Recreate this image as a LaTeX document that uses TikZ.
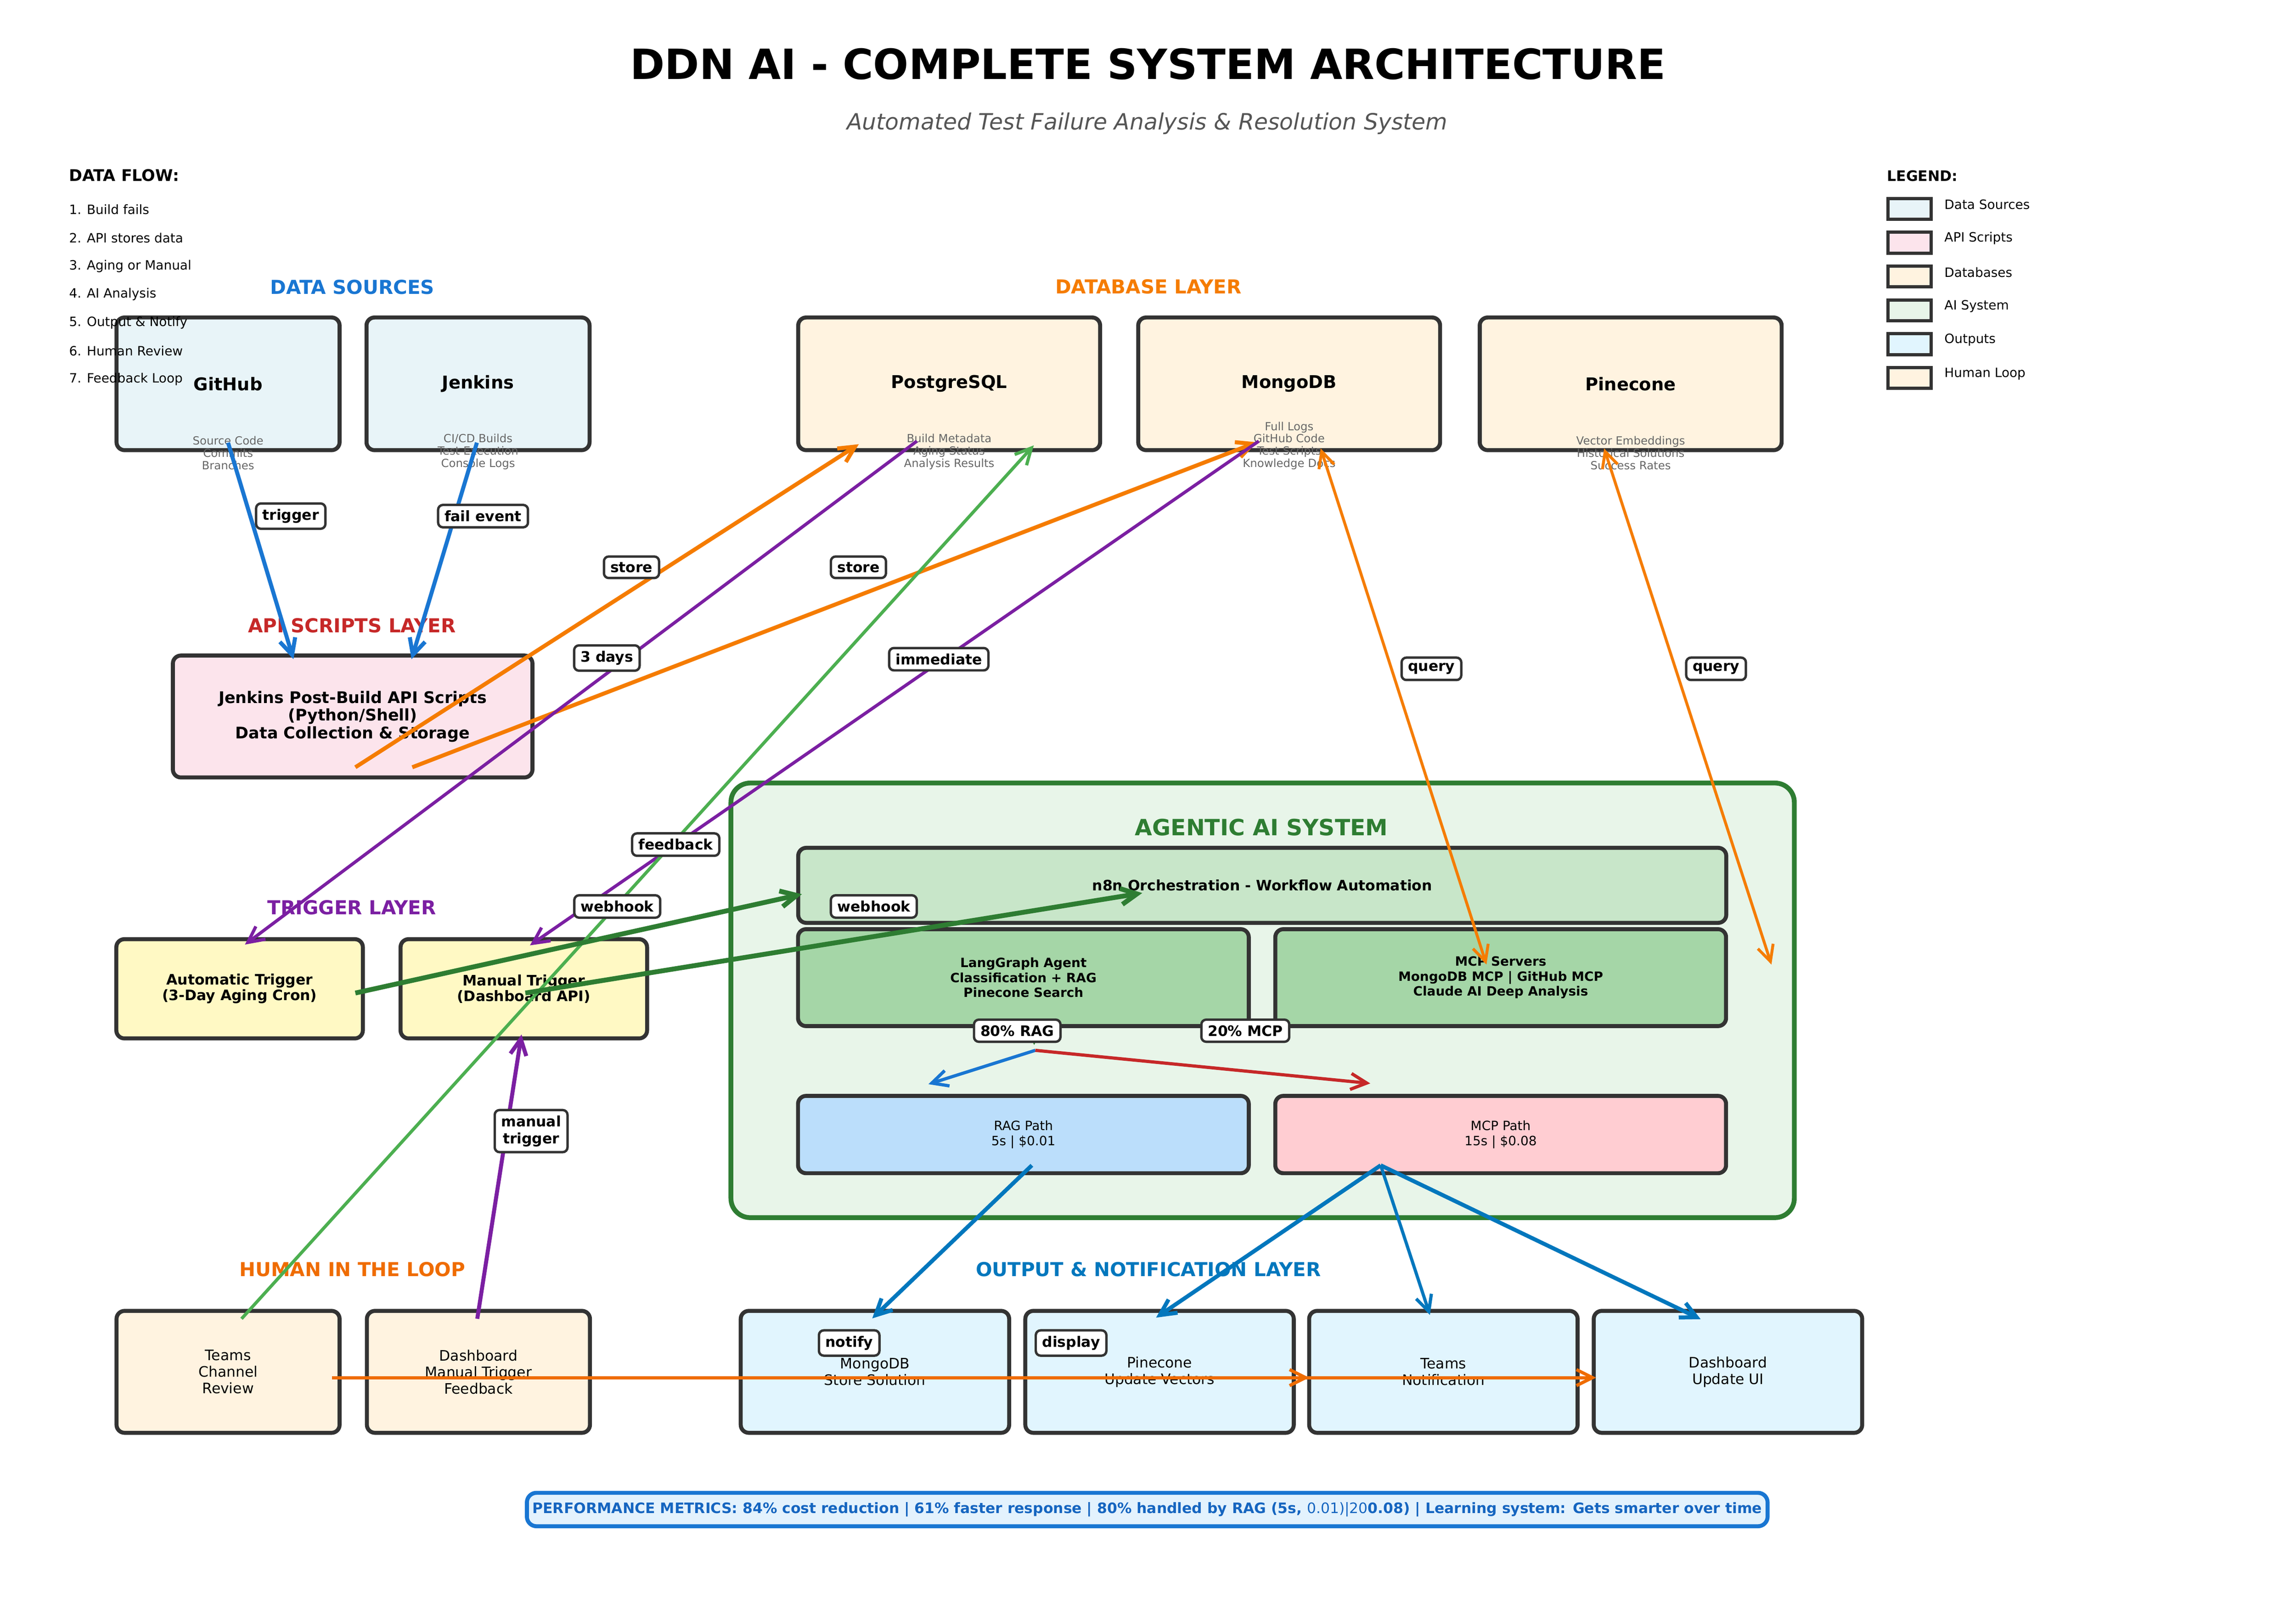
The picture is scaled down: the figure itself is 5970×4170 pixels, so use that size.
\documentclass[tikz,border=0pt]{standalone}
\usepackage{fontspec}
\setmainfont{DejaVu Sans}
\usetikzlibrary{arrows.meta}

\definecolor{edge}{HTML}{333333}
\definecolor{srcfill}{HTML}{E8F4F8}
\definecolor{apifill}{HTML}{FCE4EC}
\definecolor{dbfill}{HTML}{FFF3E0}
\definecolor{trigfill}{HTML}{FFF9C4}
\definecolor{aifill}{HTML}{E8F5E9}
\definecolor{n8nfill}{HTML}{C8E6C9}
\definecolor{agentfill}{HTML}{A5D6A7}
\definecolor{ragfill}{HTML}{BBDEFB}
\definecolor{mcpfill}{HTML}{FFCDD2}
\definecolor{outfill}{HTML}{E1F5FE}
\definecolor{humanfill}{HTML}{FFF3E0}
\definecolor{metricfill}{HTML}{E3F2FD}
\definecolor{srcblue}{HTML}{1976D2}
\definecolor{dborange}{HTML}{F57C00}
\definecolor{apired}{HTML}{C62828}
\definecolor{trigpurple}{HTML}{7B1FA2}
\definecolor{aigreen}{HTML}{2E7D32}
\definecolor{fbgreen}{HTML}{4CAF50}
\definecolor{humanorange}{HTML}{EF6C00}
\definecolor{outblue}{HTML}{0277BD}
\definecolor{metricblue}{HTML}{1565C0}
\definecolor{subgray}{HTML}{666666}
\definecolor{titlegray}{HTML}{555555}

\begin{document}
\begin{tikzpicture}[x=0.24pt, y=-0.24pt,
  box/.style={draw=edge, line width=2.5pt, rounded corners=5pt, align=center, inner sep=2pt},
  wh/.style 2 args={minimum width=#1*0.24pt, minimum height=#2*0.24pt},
  layer/.style={font=\bfseries\fontsize{12}{14}\selectfont},
  sub/.style={text=subgray, font=\fontsize{7}{7.7}\selectfont, align=center, anchor=south, inner sep=0pt},
  tag/.style={draw=edge, fill=white, line width=1.5pt, rounded corners=3pt, inner xsep=4pt, inner ysep=3.5pt,
    align=center, font=\bfseries\fontsize{9}{10.5}\selectfont},
  flow/.style={-{Straight Barb[length=10pt,width=10pt]}, line width=2.5pt},
  twoway/.style={{Straight Barb[length=10pt,width=10pt]}-{Straight Barb[length=10pt,width=10pt]}, line width=1.8pt},
]

\useasboundingbox[fill=white] (0,0) rectangle (5970,4170);

% heading
\node[font=\bfseries\fontsize{26}{30}\selectfont] (title) at (2985,167) {DDN AI - COMPLETE SYSTEM ARCHITECTURE};
\node[font=\itshape\fontsize{14}{16}\selectfont, text=titlegray] (subtitle) at (2983,321)
  {Automated Test Failure Analysis \& Resolution System};

% layer titles
\node[layer, text=srcblue] (srctitle) at (916,746) {DATA SOURCES};
\node[layer, text=dborange] (dbtitle) at (2986,745) {DATABASE LAYER};
\node[layer, text=apired] (apititle) at (915,1626) {API SCRIPTS LAYER};
\node[layer, text=trigpurple] (trigtitle) at (915,2360) {TRIGGER LAYER};
\node[layer, text=humanorange] (humantitle) at (916,3301) {HUMAN IN THE LOOP};
\node[layer, text=outblue] (outtitle) at (2986,3301) {OUTPUT \& NOTIFICATION LAYER};

% data sources
\node[box, fill=srcfill, wh={580}{345}, font=\bfseries\fontsize{11}{13}\selectfont] (github) at (593,998) {GitHub};
\node[box, fill=srcfill, wh={580}{345}, font=\bfseries\fontsize{11}{13}\selectfont] (jenkins) at (1243,998) {Jenkins};
\node[sub] (githubsub) at (593,1222) {Source Code\\Commits\\Branches};
\node[sub] (jenkinssub) at (1243,1222) {CI/CD Builds\\Test Execution\\Console Logs};

% databases
\node[box, fill=dbfill, wh={785}{345}, font=\bfseries\fontsize{11}{13}\selectfont] (postgres) at (2468,998) {PostgreSQL};
\node[box, fill=dbfill, wh={785}{345}, font=\bfseries\fontsize{11}{13}\selectfont] (mongo) at (3352,998) {MongoDB};
\node[box, fill=dbfill, wh={785}{345}, font=\bfseries\fontsize{11}{13}\selectfont] (pinecone) at (4240,998) {Pinecone};
\node[sub] (postgressub) at (2468,1222) {Build Metadata\\Aging Status\\Analysis Results};
\node[sub] (mongosub) at (3352,1222) {Full Logs\\GitHub Code\\Test Scripts\\Knowledge Docs};
\node[sub] (pineconesub) at (4240,1222) {Vector Embeddings\\Historical Solutions\\Success Rates};

% api scripts
\node[box, fill=apifill, wh={935}{317}, font=\bfseries\fontsize{10}{11}\selectfont] (api) at (917,1863)
  {Jenkins Post-Build API Scripts\\(Python/Shell)\\Data Collection \& Storage};

% triggers
\node[box, fill=trigfill, wh={641}{258}, font=\bfseries\fontsize{9}{9.8}\selectfont] (autotrig) at (623,2571)
  {Automatic Trigger\\(3-Day Aging Cron)};
\node[box, fill=trigfill, wh={641}{258}, font=\bfseries\fontsize{9}{9.8}\selectfont] (mantrig) at (1362,2571)
  {Manual Trigger\\(Dashboard API)};

% agentic ai system
\node[draw=aigreen, line width=3pt, rounded corners=12pt, fill=aifill, wh={2765}{1130}] (ai) at (3283,2601) {};
\node[font=\bfseries\fontsize{14}{16}\selectfont, text=aigreen] (aititle) at (3280,2151) {AGENTIC AI SYSTEM};
% agent to split, hidden under the boxes
\coordinate (agent-low) at (2689,2640);
\coordinate (split-top) at (2689,2717);
\draw[flow, aigreen] (agent-low) -- (split-top);
\node[box, fill=n8nfill, wh={2413}{195}, font=\bfseries\fontsize{9}{11}\selectfont] (n8n) at (3282,2302)
  {n8n Orchestration - Workflow Automation};
\node[box, fill=agentfill, wh={1172}{252}, font=\bfseries\fontsize{8}{9.3}\selectfont] (agent) at (2661,2542)
  {LangGraph Agent\\Classification + RAG\\Pinecone Search};
\node[box, fill=agentfill, wh={1172}{252}, font=\bfseries\fontsize{8}{9.3}\selectfont] (mcp) at (3902,2542)
  {MCP Servers\\MongoDB MCP | GitHub MCP\\Claude AI Deep Analysis};
\node[box, fill=ragfill, wh={1172}{201}, font=\fontsize{8}{9.3}\selectfont] (ragpath) at (2661,2950) {RAG Path\\5s | \$0.01};
\node[box, fill=mcpfill, wh={1172}{201}, font=\fontsize{8}{9.3}\selectfont] (mcppath) at (3902,2950) {MCP Path\\15s | \$0.08};

% outputs
\node[box, fill=outfill, wh={698}{317}, font=\fontsize{9}{10.3}\selectfont] (outmongo) at (2275,3567) {MongoDB\\Store Solution};
\node[box, fill=outfill, wh={698}{317}, font=\fontsize{9}{10.3}\selectfont] (outpine) at (3015,3567) {Pinecone\\Update Vectors};
\node[box, fill=outfill, wh={698}{317}, font=\fontsize{9}{10.3}\selectfont] (outteams) at (3753,3567) {Teams\\Notification};
\node[box, fill=outfill, wh={698}{317}, font=\fontsize{9}{10.3}\selectfont] (outdash) at (4493,3567) {Dashboard\\Update UI};

% human in the loop
\node[box, fill=humanfill, wh={580}{317}, font=\fontsize{9}{10.3}\selectfont] (teamsreview) at (593,3567) {Teams\\Channel\\Review};
\node[box, fill=humanfill, wh={580}{317}, font=\fontsize{9}{10.3}\selectfont] (dashfeedback) at (1244,3567)
  {Dashboard\\Manual Trigger\\Feedback};

% metrics
\node[draw=srcblue, fill=metricfill, line width=2.5pt, rounded corners=6pt, wh={3226}{87}, text=metricblue,
  font=\bfseries\fontsize{9}{11}\selectfont] (metrics) at (2983,3925)
  {PERFORMANCE METRICS: 84\% cost reduction | 61\% faster response | 80\% handled by RAG (5s, {\mdseries 0.01)|20}0.08) | Learning system: Gets smarter over time};

% data flow list
\node[anchor=west, inner sep=0pt, font=\bfseries\fontsize{10}{12}\selectfont] (flowhead) at (179,456) {DATA FLOW:};
\foreach \step [count=\i] in {Build fails, API stores data, Aging or Manual, AI Analysis, Output \& Notify, Human Review, Feedback Loop}
  \node[anchor=west, inner sep=0pt, font=\fontsize{8}{9.6}\selectfont] (flow\i) at (179,{545+73.5*(\i-1)}) {\i. \step};

% legend
\node[anchor=west, inner sep=0pt, font=\bfseries\fontsize{9}{11}\selectfont] (leghead) at (4906,457) {LEGEND:};
\foreach \name/\col [count=\i] in {Data Sources/srcfill, API Scripts/apifill, Databases/dbfill, AI System/aifill, Outputs/outfill, Human Loop/humanfill} {
  \node[draw=edge, line width=2pt, fill=\col, wh={113}{54}, inner sep=0pt] (leg\i) at (4965,{543+88*(\i-1)}) {};
  \node[anchor=west, inner sep=0pt, font=\fontsize{8}{9.6}\selectfont] (legtext\i) at (5055,{532+88*(\i-1)}) {\name};
}

% arrow ends
\coordinate (gh-out) at (593,1151);
\coordinate (jk-out) at (1240,1151);
\coordinate (api-in1) at (763,1714);
\coordinate (api-in2) at (1070,1714);
\coordinate (api-out1) at (924,1995);
\coordinate (api-out2) at (1072,1995);
\coordinate (pg-in) at (2233,1155);
\coordinate (mg-in) at (3268,1150);
\coordinate (pg-out) at (2384,1147);
\coordinate (mg-out) at (3273,1147);
\coordinate (auto-in) at (637,2456);
\coordinate (man-in) at (1378,2458);
\coordinate (tr-out) at (628,3429);
\coordinate (pg-fb) at (2688,1158);
\coordinate (mg-q) at (3434,1166);
\coordinate (mcp-q) at (3865,2508);
\coordinate (pc-q) at (4171,1166);
\coordinate (ai-q) at (4606,2508);
\coordinate (auto-out) at (924,2582);
\coordinate (man-out) at (1366,2582);
\coordinate (n8n-in1) at (2085,2325);
\coordinate (n8n-in2) at (2970,2322);
\coordinate (split) at (2692,2731);
\coordinate (rag-in) at (2414,2819);
\coordinate (mcp-in) at (3563,2817);
\coordinate (rag-out) at (2683,3030);
\coordinate (mcp-out) at (3590,3030);
\coordinate (om-in) at (2268,3428);
\coordinate (op-in) at (3006,3426);
\coordinate (ot-in) at (3718,3419);
\coordinate (od-in) at (4422,3430);
\coordinate (df-out) at (1241,3429);
\coordinate (man-bot) at (1356,2690);
\coordinate (loop-a) at (863,3582);
\coordinate (loop-b) at (1241,3582);
\coordinate (ot-side) at (3404,3582);
\coordinate (od-side) at (4150,3582);

% connectors
\draw[flow, srcblue] (gh-out) -- (api-in1);
\draw[flow, srcblue] (jk-out) -- (api-in2);
\draw[flow, dborange] (api-out1) -- (pg-in);
\draw[flow, dborange] (api-out2) -- (mg-in);
\draw[flow, trigpurple, line width=2pt] (pg-out) -- (auto-in);
\draw[flow, trigpurple, line width=2pt] (mg-out) -- (man-in);
\draw[flow, fbgreen, line width=2pt] (tr-out) -- (pg-fb);
\draw[twoway, dborange] (mg-q) -- (mcp-q);
\draw[twoway, dborange] (pc-q) -- (ai-q);
\draw[flow, aigreen, line width=3pt] (auto-out) -- (n8n-in1);
\draw[flow, aigreen, line width=3pt] (man-out) -- (n8n-in2);
\draw[flow, srcblue, line width=2pt] (split) -- (rag-in);
\draw[flow, apired, line width=2pt] (split) -- (mcp-in);
\draw[flow, outblue] (rag-out) -- (om-in);
\draw[flow, outblue] (mcp-out) -- (op-in);
\draw[flow, outblue, line width=2pt] (mcp-out) -- (ot-in);
\draw[flow, outblue] (mcp-out) -- (od-in);
\draw[flow, trigpurple] (df-out) -- (man-bot);
\draw[flow, humanorange, line width=2pt] (loop-a) -- (ot-side);
\draw[flow, humanorange, line width=2pt] (loop-b) -- (od-side);

% connector labels
\node[tag] (tagtrigger) at (756,1342) {trigger};
\node[tag] (tagfail) at (1256,1342) {fail event};
\node[tag] (tagstore1) at (1642,1475) {store};
\node[tag] (tagstore2) at (2232,1475) {store};
\node[tag] (tagdays) at (1578,1711) {3 days};
\node[tag] (tagimm) at (2441,1714) {immediate};
\node[tag] (tagfb) at (1757,2196) {feedback};
\node[tag] (tagq1) at (3722,1739) {query};
\node[tag] (tagq2) at (4462,1739) {query};
\node[tag] (tagwh1) at (1605,2357) {webhook};
\node[tag] (tagwh2) at (2272,2357) {webhook};
\node[tag] (tagrag) at (2645,2680) {80\% RAG};
\node[tag] (tagmcp) at (3238,2680) {20\% MCP};
\node[tag] (tagman) at (1381,2941) {manual\\trigger};
\node[tag] (tagnotify) at (2208,3492) {notify};
\node[tag] (tagdisplay) at (2785,3492) {display};

\end{tikzpicture}
\end{document}
